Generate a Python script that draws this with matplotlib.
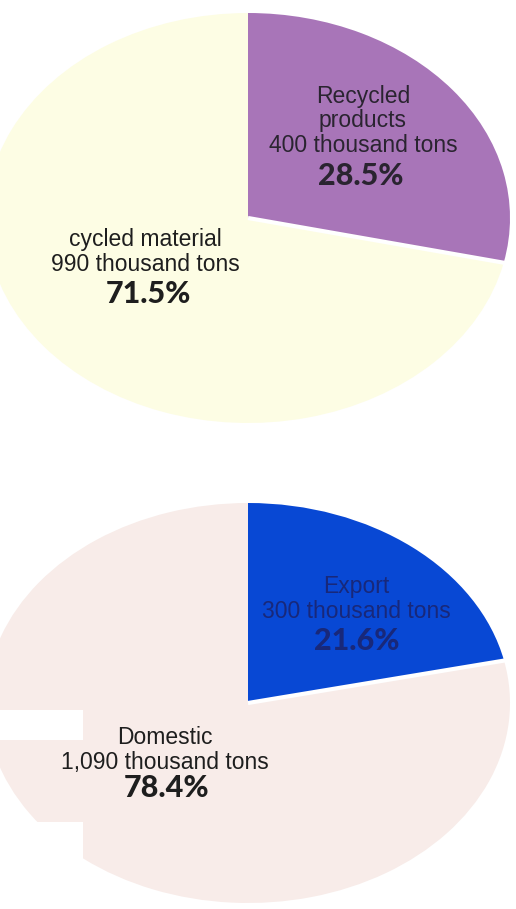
import numpy as np
import matplotlib.pyplot as plt
from matplotlib.patches import Rectangle

# Shares of waste plastic use and destination
use_labels = ["Recycled\nproducts\n400 thousand tons", "cycled material\n990 thousand tons"]
use_pcts = [28.5, 71.5]
use_colors = ["#a875b8", "#fdfde4"]

dest_labels = ["Export\n300 thousand tons", "Domestic\n1,090 thousand tons"]
dest_pcts = [21.6, 78.4]
dest_colors = ["#0848d4", "#f8ece9"]

W, H = 516, 909
fig = plt.figure(figsize=(W / 100, H / 100), dpi=100)


def draw_pie(rect_px, center_px, rx, ry, pcts, colors, labels, label_pos, pct_pos, text_colors):
    # rect_px: (top, bottom) of the axes in image pixel rows
    top, bottom = rect_px
    ax = fig.add_axes([0, 1 - bottom / H, 1, (bottom - top) / H])
    ax.pie(pcts, colors=colors, startangle=90, counterclock=False,
           wedgeprops=dict(linewidth=0))
    ax.set_aspect("auto")
    cx, cy = center_px
    ax.set_xlim((0 - cx) / rx, (W - cx) / rx)
    ax.set_ylim((cy - bottom) / ry, (cy - top) / ry)
    ax.axis("off")

    # white cut along the lower boundary between the two slices
    ang = np.deg2rad(90 - 360 * pcts[0] / 100)
    ax.plot([0, 1.02 * np.cos(ang)], [0, 1.02 * np.sin(ang)], color="white",
            lw=3, solid_capstyle="butt")

    def to_data(px, py):
        return (px - cx) / rx, (cy - py) / ry

    for lab, (px, py), col in zip(labels, label_pos, text_colors):
        x, y = to_data(px, py)
        ax.text(x, y, lab, ha="center", va="center", fontsize=16.5, color=col,
                family=["Liberation Sans", "DejaVu Sans"], linespacing=1.1)
    for p, (qx, qy), col in zip(pcts, pct_pos, text_colors):
        x, y = to_data(qx, qy)
        ax.text(x, y, f"{p}%", ha="center", va="center", fontsize=22, color=col,
                family=["Lato", "DejaVu Sans"], fontweight="black")
    return ax


draw_pie((0, 454), (248, 218), 262, 205, use_pcts, use_colors, use_labels,
         [(363, 121), (145, 252)], [(361, 176), (148, 294)], ["#2a2430", "#1e1e1e"])

draw_pie((454, H), (248, 703), 262, 200, dest_pcts, dest_colors, dest_labels,
         [(356, 599), (165, 750)], [(357, 641), (167, 788)], ["#18287a", "#1e1e1e"])

# blank paper patches over the edges of the lower pie
for x0, y0, w, h in [(0, 710, 83, 30), (0, 822, 83, 87), (462, 823, 54, 86)]:
    fig.patches.append(Rectangle((x0 / W, 1 - (y0 + h) / H), w / W, h / H,
                                 transform=fig.transFigure, facecolor="white",
                                 edgecolor="none", zorder=5))

fig.savefig("out.png", dpi=100)
